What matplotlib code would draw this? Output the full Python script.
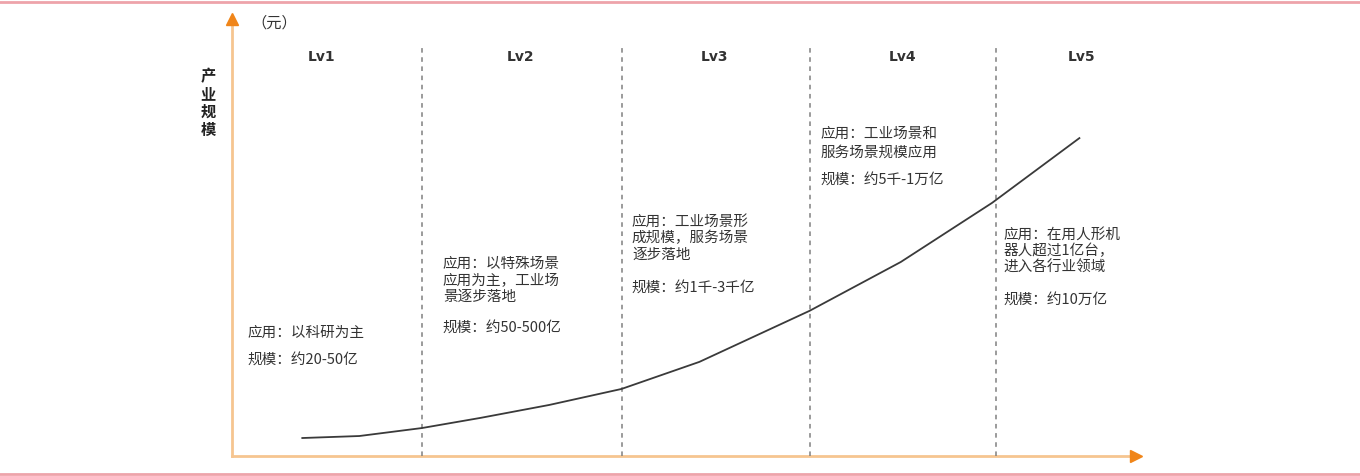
import matplotlib.pyplot as plt

plt.rcParams['font.family'] = ['Noto Sans CJK SC', 'DejaVu Sans']

# stage boundaries (x, in stage units) and curve
boundaries = [1.0, 2.05, 3.04, 4.02]
curve_x = [0.37, 0.67, 1.0, 1.31, 1.67, 2.05, 2.46, 3.04, 3.52, 4.0, 4.46]
curve_y = [4.05, 4.5, 6.3, 8.6, 11.5, 15.1, 21.2, 32.7, 43.7, 57.0, 71.6]

levels = ["Lv1", "Lv2", "Lv3", "Lv4", "Lv5"]
level_x = [0.47, 1.52, 2.54, 3.53, 4.47]
apps = [
    "应用：以科研为主",
    "应用：以特殊场景\n应用为主，工业场\n景逐步落地",
    "应用：工业场景形\n成规模，服务场景\n逐步落地",
    "应用：工业场景和\n服务场景规模应用",
    "应用：在用人形机\n器人超过1亿台，\n进入各行业领域",
]
scales = ["规模：约20-50亿", "规模：约50-500亿", "规模：约1千-3千亿", "规模：约5千-1万亿", "规模：约10万亿"]
text_x = [0.084, 1.11, 2.105, 3.095, 4.06]
app_top = [29.3, 44.8, 54.3, 74.1, 51.4]
scale_y = [21.6, 28.8, 37.8, 62.2, 35.1]

fig = plt.figure(figsize=(13.6, 4.76), dpi=100)

# pink frame lines top and bottom
fig.add_artist(plt.Line2D([0, 1], [0.995, 0.995], color='#eea3aa', lw=2))
fig.add_artist(plt.Line2D([0, 1], [0.004, 0.004], color='#eea3aa', lw=2))

ax = fig.add_axes([232 / 1360, 20 / 476, 918 / 1360, 444 / 476])
ax.set_xlim(0, 918 / 190)
ax.set_ylim(0, 100)
ax.axis('off')

# axes with arrows
axis_c = '#f6c590'
head_c = '#f08519'
ax.plot([0, 0], [0, 98], color=axis_c, lw=2, clip_on=False)
ax.plot([0, 4.75], [0, 0], color=axis_c, lw=2, clip_on=False)
ax.plot([0], [98.5], marker='^', color=head_c, ms=8, clip_on=False)
ax.plot([4.76], [0], marker='>', color=head_c, ms=8, clip_on=False)

for b in boundaries:
    ax.plot([b, b], [0, 92.6], color='#808080', lw=1.1, ls=(0, (3, 3)))

ax.plot(curve_x, curve_y, color='#3a3a3a', lw=1.3)

for lv, lx in zip(levels, level_x):
    ax.text(lx, 89.9, lv, ha='center', va='center', fontsize=10, fontweight='bold',
            color='#333333', family='DejaVu Sans')

for i, (tx, app, top, sc, sy) in enumerate(zip(text_x, apps, app_top, scales, scale_y)):
    ls = 1.4 if i == 3 else 1.2
    ax.text(tx, top, app, ha='left', va='top', fontsize=10.5, color='#333333', linespacing=ls)
    ax.text(tx, sy, sc, ha='left', va='center', fontsize=10.5, color='#333333')

ax.text(0.1, 97.5, "（元）", ha='left', va='center', fontsize=11, color='#333333', clip_on=False)
ax.text(-0.126, 79.5, "产\n业\n规\n模", ha='center', va='center', fontsize=11, fontweight='bold',
        color='#222222', linespacing=1.15, clip_on=False)

fig.savefig("out.png", dpi=100)
